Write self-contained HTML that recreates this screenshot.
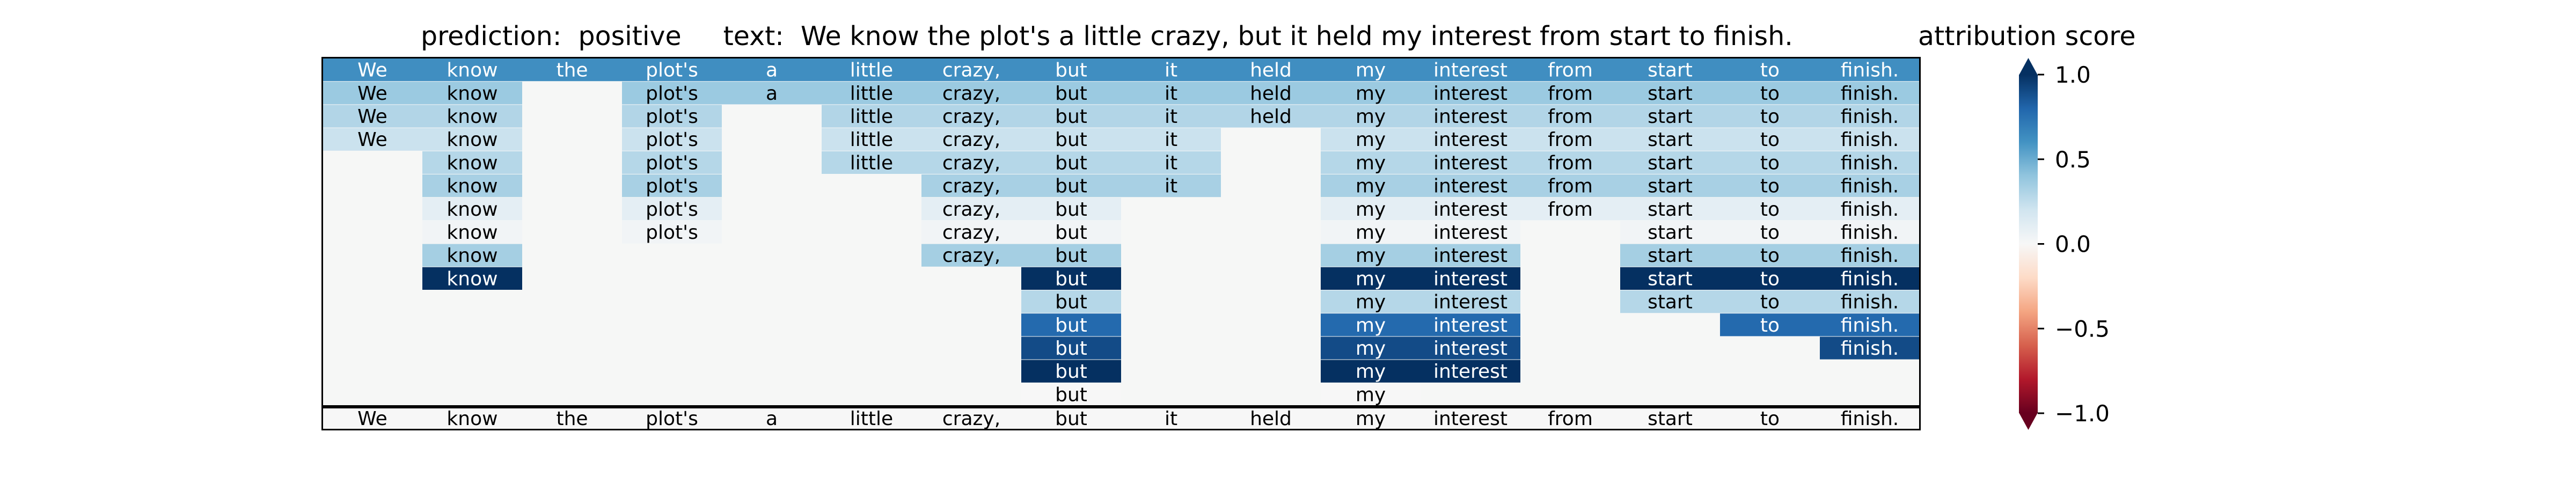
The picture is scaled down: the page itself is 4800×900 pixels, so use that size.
<!DOCTYPE html>
<html><head><meta charset="utf-8"><style>
html,body{margin:0;padding:0;background:#fff;}
svg{display:block;font-family:"DejaVu Sans","Liberation Sans",sans-serif;}
</style></head><body>
<svg id="chart" width="4800" height="900" viewBox="0 0 4800 900" xmlns="http://www.w3.org/2000/svg">
<defs>
<linearGradient id="cbgrad" x1="0" y1="1" x2="0" y2="0">
<stop offset="0" stop-color="#67001f"/><stop offset="0.1" stop-color="#b2182b"/><stop offset="0.2" stop-color="#d6604d"/><stop offset="0.3" stop-color="#f4a582"/><stop offset="0.4" stop-color="#fddbc7"/><stop offset="0.5" stop-color="#f7f7f7"/><stop offset="0.6" stop-color="#d1e5f0"/><stop offset="0.7" stop-color="#92c5de"/><stop offset="0.8" stop-color="#4393c3"/><stop offset="0.9" stop-color="#2166ac"/><stop offset="1" stop-color="#053061"/>
</linearGradient>
</defs>
<text x="784" y="84" font-size="49" xml:space="preserve">prediction:  positive     text:  We know the plot's a little crazy, but it held my interest from start to finish.</text>
<text x="3574" y="84" font-size="49">attribution score</text>
<g id="cells"></g>
<g id="cbar"></g>
</svg>
<script>
const words = ["We","know","the","plot's","a","little","crazy,","but","it","held","my","interest","from","start","to","finish."];
const rowValues = [0.62,0.37,0.3,0.22,0.29,0.33,0.1,0.03,0.34,1.0,0.29,0.78,0.9,1.0,0.0];
const rowMasks = [
"1111111111111111",
"1101111111111111",
"1101011111111111",
"1101011110111111",
"0101011110111111",
"0101001110111111",
"0101001100111111",
"0101001100110111",
"0100001100110111",
"0100000100110111",
"0000000100110111",
"0000000100110011",
"0000000100110001",
"0000000100110000",
"0000000100100000"];
const baseValue = 0.0;
const cbTicks = [1.0,0.5,0.0,-0.5,-1.0];
const cbTickLabels = ["1.0","0.5","0.0","\u22120.5","\u22121.0"];

const NS="http://www.w3.org/2000/svg";
const stops=[[103,0,31],[178,24,43],[214,96,77],[244,165,130],[253,219,199],[247,247,247],[209,229,240],[146,197,222],[67,147,195],[33,102,172],[5,48,97]];
function rdbu(v){v=Math.max(-1,Math.min(1,v));const t=(v+1)/2*10;const i=Math.min(9,Math.floor(t));const f=t-i;
const c=stops[i].map((a,k)=>Math.round(a+(stops[i+1][k]-a)*f));return `rgb(${c[0]},${c[1]},${c[2]})`;}
const X0=601, CW=186, Y0=109, RH=43.2;
const xCol=i=>X0+CW*i;
const yRow=r=>Y0+RH*r;
const g=document.getElementById('cells');
function mk(tag,attrs){const e=document.createElementNS(NS,tag);for(const k in attrs)e.setAttribute(k,attrs[k]);return e;}
// background
const bg=mk('rect',{x:X0,y:Y0,width:CW*16,height:691,fill:'#f6f7f6'});


g.appendChild(bg);
rowValues.forEach((v,r)=>{
  const m=rowMasks[r];
  for(let i=0;i<words.length;i++){
    if(m[i]!=='1')continue;
    const rc=mk('rect',{x:xCol(i),y:yRow(r),width:CW,height:RH-1,fill:rdbu(v)});
    
    
    g.appendChild(rc);
    const t=mk('text',{x:xCol(i)+CW/2,y:yRow(r)+RH/2+12,'font-size':36,'text-anchor':'middle',fill:v>0.5?'#fff':'#000'});
    t.textContent=words[i];
    
    
    g.appendChild(t);
  }
});
// reference row
const yLast=761;
for(let i=0;i<words.length;i++){
  const rc=mk('rect',{x:xCol(i),y:yLast,width:CW,height:37,fill:rdbu(baseValue)});
  
  
  g.appendChild(rc);
  const t=mk('text',{x:xCol(i)+CW/2,y:yLast+31,'font-size':36,'text-anchor':'middle',fill:'#000'});
  t.textContent=words[i];
  
  
  g.appendChild(t);
}
const sep=mk('rect',{x:X0,y:755,width:CW*16,height:6,fill:'#000'});


g.appendChild(sep);
const border=mk('rect',{x:X0-0.5,y:107.5,width:CW*16+1,height:693,fill:'none',stroke:'#000','stroke-width':3});


g.appendChild(border);
// colorbar
const cb=document.getElementById('cbar');
const CX0=3762, CX1=3797, CT=139, CB=770;
const yCb=v=>CB-(v+1)/2*(CB-CT);
const body=mk('rect',{x:CX0,y:yCb(1),width:CX1-CX0,height:yCb(-1)-yCb(1),fill:'url(#cbgrad)'});


cb.appendChild(body);
const up=mk('polygon',{points:`${CX0},${yCb(1)+1} ${CX1},${yCb(1)+1} ${(CX0+CX1)/2},108`,fill:rdbu(1)});


cb.appendChild(up);
const dn=mk('polygon',{points:`${CX0},${yCb(-1)-1} ${CX1},${yCb(-1)-1} ${(CX0+CX1)/2},801`,fill:rdbu(-1)});


cb.appendChild(dn);
cbTicks.forEach((v,k)=>{
  const y=yCb(v);
  const tk=mk('line',{x1:CX1,x2:CX1+12,y1:y,y2:y,stroke:'#000','stroke-width':3});
  
  
  cb.appendChild(tk);
  const tl=mk('text',{x:3829,y:y+15,'font-size':42});
  tl.textContent=cbTickLabels[k];
  
  
  cb.appendChild(tl);
});
</script>
</body></html>
